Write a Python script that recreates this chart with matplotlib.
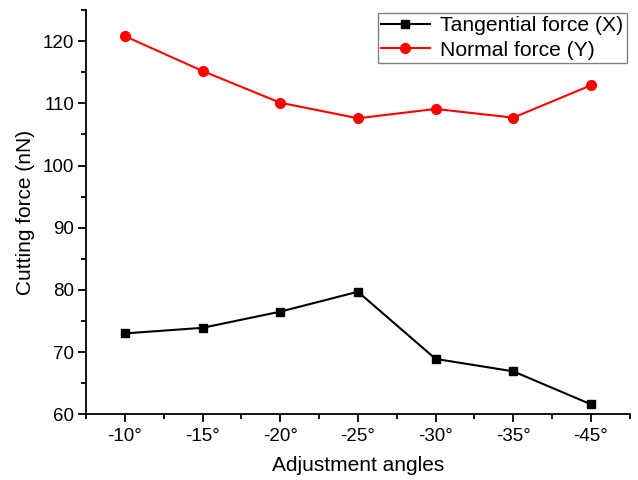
import matplotlib
matplotlib.use('Agg')
import matplotlib.pyplot as plt
from matplotlib.ticker import MultipleLocator, AutoMinorLocator

plt.rcParams['font.family'] = ['Liberation Sans', 'DejaVu Sans']

angles = ['-10°', '-15°', '-20°', '-25°', '-30°', '-35°', '-45°']
tangential = [73.0, 73.9, 76.5, 79.7, 68.9, 66.9, 61.6]
normal = [120.8, 115.2, 110.1, 107.6, 109.1, 107.7, 112.9]

x = list(range(1, len(angles) + 1))

fig = plt.figure(figsize=(6.38, 4.8), dpi=100)
ax = fig.add_axes([0.135, 0.137, 0.852, 0.842])

ax.plot(x, tangential, color='black', marker='s', markersize=6, linewidth=1.5,
        label='Tangential force (X)')
ax.plot(x, normal, color='#ff0000', marker='o', markersize=7, linewidth=1.5,
        label='Normal force (Y)')

ax.set_xlim(0.5, 7.5)
ax.set_ylim(60, 125)
ax.set_xticks(x)
ax.set_xticklabels(angles)
ax.xaxis.set_minor_locator(MultipleLocator(0.5))
ax.yaxis.set_major_locator(MultipleLocator(10))
ax.yaxis.set_minor_locator(AutoMinorLocator(2))

ax.spines['top'].set_visible(False)
ax.spines['right'].set_visible(False)
for s in ['left', 'bottom']:
    ax.spines[s].set_linewidth(1.3)

ax.tick_params(which='major', direction='out', length=6, width=1.3, labelsize=13.5)
ax.tick_params(which='minor', direction='out', length=3.3, width=1.3)
ax.tick_params(axis='x', which='major', pad=4)
ax.tick_params(axis='y', which='major', pad=2.5)

ax.set_xlabel('Adjustment angles', fontsize=15, labelpad=8)
ax.set_ylabel('Cutting force (nN)', fontsize=15, labelpad=6)

leg = ax.legend(loc='upper right', fontsize=15.2, fancybox=False, framealpha=1,
                edgecolor='#808080', handlelength=2.3, borderpad=0.15,
                labelspacing=0.25, borderaxespad=0.15, handletextpad=0.5)
leg.get_frame().set_linewidth(1.0)

fig.savefig('out.png', dpi=100)
